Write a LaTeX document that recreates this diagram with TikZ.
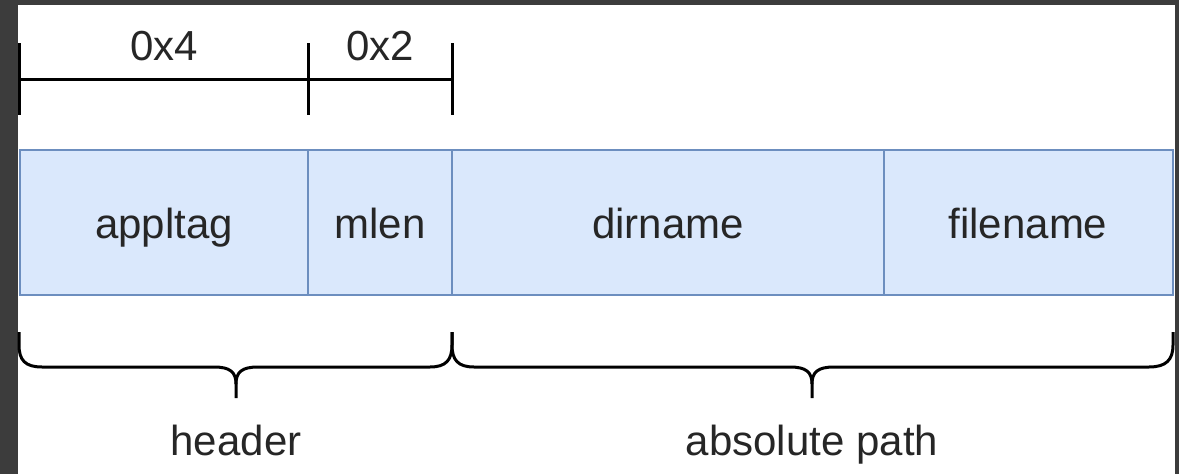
\documentclass[tikz,border=0pt]{standalone}
\usepackage{fontspec}
\setmainfont{Liberation Sans}
\definecolor{frame}{HTML}{3C3C3C}
\definecolor{cellfill}{HTML}{DAE8FC}
\definecolor{celldraw}{HTML}{6C8EBF}
\definecolor{txt}{HTML}{262626}
\begin{document}
\begin{tikzpicture}[x=1pt,y=-1pt,
  lbl/.style={font=\fontsize{42}{50}\selectfont, text=txt, inner sep=0pt, anchor=base},
  cell/.style={draw=celldraw, fill=cellfill, line width=2.2pt, minimum height=145pt, inner sep=0pt, outer sep=0pt, anchor=north west},
  dim/.style={line width=3pt, black},
  brace/.style={line width=3pt, black, line join=round}]
\useasboundingbox (0,0) rectangle (1179,474);
\fill[frame] (0,0) rectangle (1179,474);
\fill[white] (18,5) rectangle (1175,474);
% cells
\node[cell, minimum width=288pt] (appltag) at (20,150) {};
\node[cell, minimum width=144pt] (mlen) at (308,150) {};
\node[cell, minimum width=432pt] (dirname) at (452,150) {};
\node[cell, minimum width=289pt] (filename) at (884,150) {};
\node[lbl] (tA) at (164,238) {appltag};
\node[lbl] (tM) at (380,238) {mlen};
\node[lbl] (tD) at (668,238) {dirname};
\node[lbl] (tF) at (1028,238) {filename};
% dimension lines
\coordinate (d0t) at (19,43); \coordinate (d0b) at (19,115);
\coordinate (d1t) at (308,43); \coordinate (d1b) at (308,115);
\coordinate (d2t) at (452,43); \coordinate (d2b) at (452,115);
\coordinate (d0) at (19,79); \coordinate (d1) at (308,79); \coordinate (d2) at (452,79);
\draw[dim] (d0t) -- (d0b);
\draw[dim] (d1t) -- (d1b);
\draw[dim] (d2t) -- (d2b);
\draw[dim] (d0) -- (d1) -- (d2);
\node[lbl] (w4) at (164,60) {0x4};
\node[lbl] (w2) at (380,60) {0x2};
% header brace
\coordinate (hL) at (19,332); \coordinate (hR) at (452,332); \coordinate (hM) at (236,398);
\draw[brace] (hL) -- (19,345) .. controls (19,360) and (25,367) .. (42,367) -- (214,367)
  .. controls (230,367) and (236,372) .. (236,384) -- (hM);
\draw[brace] (236,384) .. controls (236,372) and (242,367) .. (258,367) -- (430,367)
  .. controls (446,367) and (452,360) .. (452,345) -- (hR);
% absolute path brace
\coordinate (aL) at (452,332); \coordinate (aR) at (1173,332); \coordinate (aM) at (812,398);
\draw[brace] (aL) -- (452,345) .. controls (452,360) and (458,367) .. (474,367) -- (790,367)
  .. controls (806,367) and (812,372) .. (812,384) -- (aM);
\draw[brace] (812,384) .. controls (812,372) and (818,367) .. (834,367) -- (1149,367)
  .. controls (1166,367) and (1173,360) .. (1173,345) -- (aR);
\node[lbl] (hdr) at (236,455) {header};
\node[lbl] (abs) at (812,455) {absolute path};
\end{tikzpicture}
\end{document}
